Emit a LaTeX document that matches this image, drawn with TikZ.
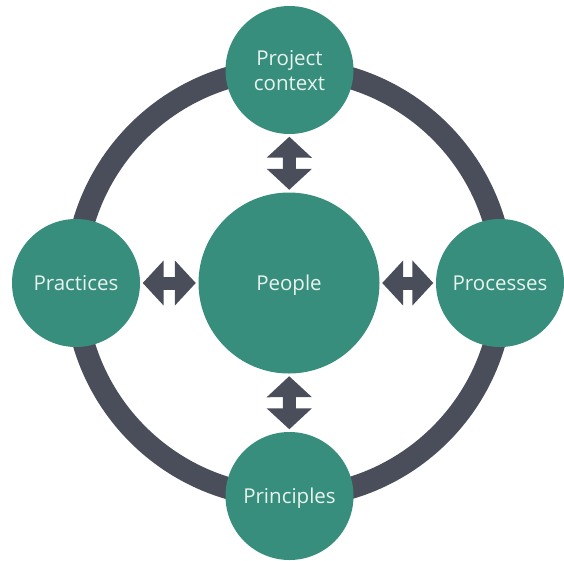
\documentclass[tikz,border=0pt]{standalone}
\usepackage{fontspec}
\setmainfont{Open Sans}
\usetikzlibrary{arrows.meta}
\definecolor{teal1}{HTML}{378E7C}
\definecolor{ringgray}{HTML}{4A4E5A}
\definecolor{txt}{HTML}{E8F3EF}
\tikzset{
  bubble/.style={circle, fill=teal1, text=txt, inner sep=0pt, align=center,
    text depth=0pt, font=\fontsize{20.5pt}{25pt}\selectfont},
  small/.style={bubble, minimum size=128pt},
  big/.style={bubble, minimum size=181pt},
  dblarrow/.style={draw=ringgray, line width=13pt,
    {Triangle[length=21pt,width=44pt]}-{Triangle[length=21pt,width=44pt]},
    shorten <=2.5pt, shorten >=2.5pt},
  ring/.style={draw=ringgray, line width=22pt}
}
\begin{document}
\begin{tikzpicture}[x=1pt,y=-1pt]
\useasboundingbox (0,0) rectangle (564,560);
\coordinate (c) at (289,283);
\draw[ring] (c) circle[radius=214pt];
\node[big] (people) at (289,283) {People};
\node[small] (ctx) at (289.5,70) {Project\\context};
\node[small] (prin) at (289.5,496) {Principles};
\node[small] (prac) at (76,283) {Practices};
\node[small] (proc) at (500,283) {Processes};
\draw[dblarrow] (people) -- (ctx);
\draw[dblarrow] (people) -- (prin);
\draw[dblarrow] (people) -- (prac);
\draw[dblarrow] (people) -- (proc);
\end{tikzpicture}
\end{document}
